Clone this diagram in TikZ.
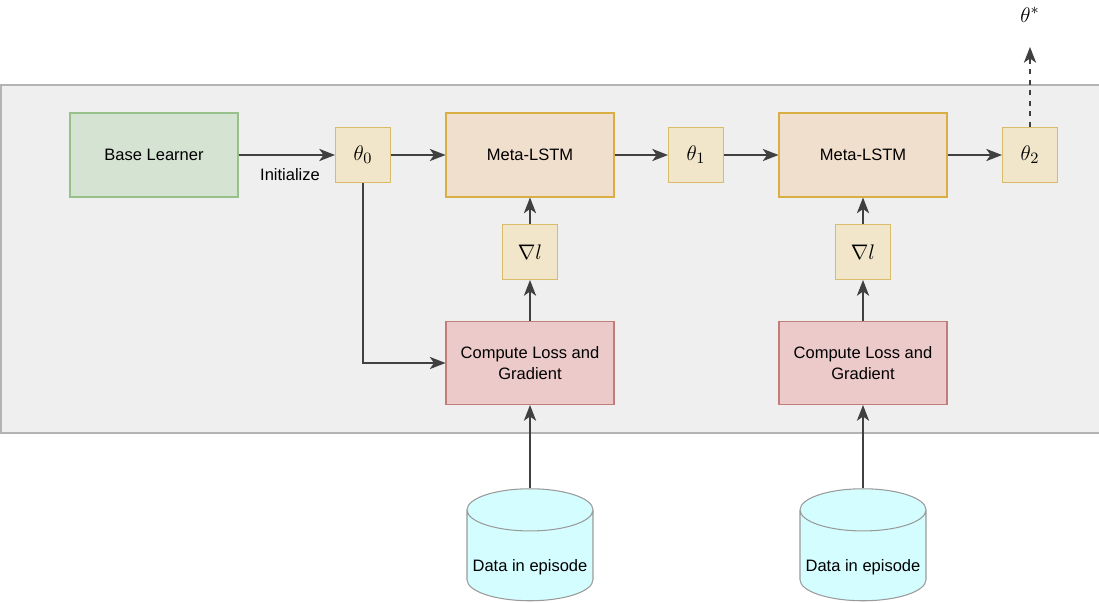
\documentclass[tikz,border=0pt]{standalone}
\usepackage{fontspec}
\setmainfont{Liberation Sans}
\usepackage{amsmath,amssymb}
\usetikzlibrary{arrows.meta,shapes.geometric}

\definecolor{panelfill}{HTML}{EFEFEF}
\definecolor{panelline}{HTML}{B3B3B3}
\definecolor{greenfill}{HTML}{D5E3D3}
\definecolor{greenline}{HTML}{97C08A}
\definecolor{parfill}{HTML}{F1E6CA}
\definecolor{parline}{HTML}{D8BC6A}
\definecolor{lstmfill}{HTML}{F1DFCD}
\definecolor{lstmline}{HTML}{D9AE45}
\definecolor{lossfill}{HTML}{EBCAC9}
\definecolor{lossline}{HTML}{C07D7A}
\definecolor{dbfill}{HTML}{D4FDFF}
\definecolor{dbline}{HTML}{9A9A9A}
\definecolor{arrowcol}{HTML}{404040}

\tikzset{
  box/.style={draw, line width=0.6pt, align=center, font=\fontsize{9.4}{11.5}\selectfont},
  learner/.style={box, fill=greenfill, draw=greenline, minimum width=3.36cm, minimum height=1.68cm},
  param/.style={box, fill=parfill, draw=parline, minimum width=1.1cm, minimum height=1.1cm,
    font=\fontsize{13}{15}\selectfont},
  lstm/.style={box, fill=lstmfill, draw=lstmline, minimum width=3.36cm, minimum height=1.68cm},
  loss/.style={box, fill=lossfill, draw=lossline, minimum width=3.36cm, minimum height=1.66cm},
  db/.style={cylinder, shape border rotate=90, aspect=3.6, draw=dbline, fill=dbfill,
    line width=0.6pt, minimum width=2.52cm, minimum height=2.24cm},
  link/.style={draw=arrowcol, line width=0.7pt, -{Stealth[length=9pt,width=7pt,inset=2.5pt]}}
}

\begin{document}
\begin{tikzpicture}[x=0.02cm,y=-0.02cm]
    \useasboundingbox (0,0) rectangle (1099,602);

    % Grey panel round the update loop
    \draw[panelline, fill=panelfill, line width=0.6pt] (1,85) rectangle (1110,433);

    % Top row
    \node[learner] (base) at (154,155) {Base Learner};
    \node[param] (t0) at (363,155) {$\theta_0$};
    \node[lstm] (lstm1) at (530,155) {Meta-LSTM};
    \node[param] (t1) at (696,155) {$\theta_1$};
    \node[lstm] (lstm2) at (863,155) {Meta-LSTM};
    \node[param] (t2) at (1030,155) {$\theta_2$};
    \node[font=\fontsize{13}{15}\selectfont] (tstar) at (1030,15) {$\theta^{*}$};
    \coordinate (out) at (1030,47);

    % Gradients
    \node[param] (g1) at (530,252) {$\nabla l$};
    \node[param] (g2) at (863,252) {$\nabla l$};

    % Loss boxes
    \node[loss] (loss1) at (530,363) {Compute Loss and\\Gradient};
    \node[loss] (loss2) at (863,363) {Compute Loss and\\Gradient};

    % Episode data
    \node[db] (db1) at (530,560) {};
    \node[db] (db2) at (863,560) {};
    \node[font=\fontsize{9.4}{11.5}\selectfont] (d1) at (530,567) {Data in episode};
    \node[font=\fontsize{9.4}{11.5}\selectfont] (d2) at (863,567) {Data in episode};

    \node[font=\fontsize{9.4}{11.5}\selectfont] (init) at (290,175) {Initialize};

    % Connect
    \draw[link] (base) -- (t0);
    \draw[link] (t0) -- (lstm1);
    \draw[link] (lstm1) -- (t1);
    \draw[link] (t1) -- (lstm2);
    \draw[link] (lstm2) -- (t2);
    \draw[link, dashed] (t2) -- (out);
    \draw[link] (t0.south) |- (loss1.west);
    \draw[link] (loss1) -- (g1);
    \draw[link] (g1) -- (lstm1);
    \draw[link] (loss2) -- (g2);
    \draw[link] (g2) -- (lstm2);
    \draw[link] (db1.top) -- (loss1);
    \draw[link] (db2.top) -- (loss2);
\end{tikzpicture}
\end{document}
